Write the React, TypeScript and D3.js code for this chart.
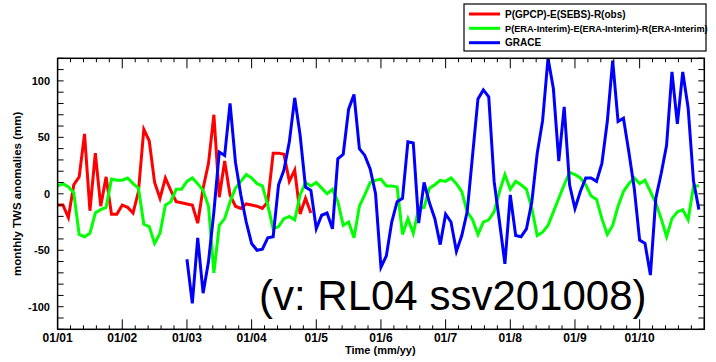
import React from "react";
import * as d3 from "d3";

// month index 0 = Jan 2001
const redStart = 0;
const redValues = [-10, -10, -21, 8, 15, 53, -15, 36, -11, 15, -18, -18, -10, -12, -17, 2, 57, 47, 10, -4, 14, 3, -7, -8, -9, -10, -26, 5, 27, 70, -3, 29, -1, -11, -13, -9, -10, -11, -13, -7, 36, 36, 35, 11, 21, -18, -4, -17];

const greenStart = 0;
const greenValues = [7, 9, 6, 1, -36, -38, -35, -17, -14, -12, 13, 12, 12, 14, 9, 5, -27, -29, -44, -35, -10, -7, 4, 4, 11, 14, 9, 3, -11, -70, -28, -22, -7, 5, 11, 17, 14, 9, 7, -10, -31, -29, -22, -20, -23, -1, 10, 7, 10, 5, 0, 4, -7, -28, -25, -39, -11, -1, 10, 12, 13, 7, 7, 6, -36, -22, -35, -13, -12, 5, 8, 12, 11, 14, 9, 2, -16, -23, -36, -25, -23, -16, 2, 17, 4, 11, 8, 4, -13, -37, -34, -28, -16, -4, 8, 19, 17, 14, 8, -2, -5, -22, -36, -28, -11, 2, 9, 14, 9, 12, 2, -8, -22, -38, -22, -16, -14, -23, 7, 7];

const blueStart = 24;
const blueValues = [-58, -97, -39, -88, -60, -16, 37, 34, 80, 28, -1, -25, -44, -50, -49, -39, -38, 8, 21, 46, 85, 52, 6, 3, -31, -19, -17, -31, 31, 35, 75, 88, 40, 34, 22, 0, -65, -55, -25, -7, -4, 46, 45, -26, 10, -8, -22, -45, -18, -25, -51, -37, -16, 34, 84, 92, 86, 11, -25, -62, -1, -37, -38, -31, -7, 36, 65, 120, 93, 29, 77, 8, -13, 2, 14, 14, 11, 27, 64, 118, 64, 67, 37, 5, -41, -44, -72, -4, 18, 43, 108, 62, 108, 76, 11, -14];

const seriesNames = ["P(GPCP)-E(SEBS)-R(obs)", "P(ERA-Interim)-E(ERA-Interim)-R(ERA-Interim)", "GRACE"];
const seriesColors = ["#ff0000", "#00ff00", "#0000ff"];
const legendFontSizes = [10, 9.2, 10];

const xTickLabels = ["01/01", "01/02", "01/03", "01/04", "01/5", "01/6", "01/7", "01/8", "01/9", "01/10"];
const yTickValues = [-100, -50, 0, 50, 100];

const W = 716, H = 362;
const L = 57.6, R = 704.3, T = 58.3, B = 329.3;
const FONT = "'Liberation Sans', Arial, Helvetica, sans-serif";

export default function App() {
  const x = d3.scaleLinear().domain([0, 120]).range([L, R]);
  const y = d3.scaleLinear().domain([-120, 120]).range([B, T]);

  const mk = (start: number, vals: number[]) => vals.map((v, i) => [start + i, v] as [number, number]);
  const series = [mk(redStart, redValues), mk(greenStart, greenValues), mk(blueStart, blueValues)];
  const line = d3.line<[number, number]>().x(d => x(d[0])).y(d => y(d[1]));

  const majorX = d3.range(0, 121, 12);
  const minorX = d3.range(0, 120.01, 2.4).filter(m => Math.abs(m / 12 - Math.round(m / 12)) > 1e-6);
  const yTicks = d3.range(-120, 121, 10);

  const legendRows = [14, 28.3, 42.7];

  return (
    <svg width={W} height={H} style={{ position: "absolute", left: 0, top: 0, background: "#fff" }} fontFamily={FONT}>
      <defs>
        <clipPath id="plotclip">
          <rect x={L} y={T} width={R - L} height={B - T} />
        </clipPath>
      </defs>
      <rect x={0} y={0} width={W} height={H} fill="#fff" />
      <g clipPath="url(#plotclip)">
        {series.map((s, i) => (
          <path key={i} d={line(s) || ""} fill="none" stroke={seriesColors[i]} strokeWidth={3} strokeLinejoin="miter" strokeMiterlimit={4} />
        ))}
      </g>
      <text x={259} y={310} fontSize={42} fill="#000">(v: RL04 ssv201008)</text>
      <rect x={L} y={T} width={R - L} height={B - T} fill="none" stroke="#000" strokeWidth={1.5} />
      {majorX.map(m => (
        <g key={"mx" + m}>
          <line x1={x(m)} x2={x(m)} y1={B} y2={B - 10} stroke="#000" strokeWidth={1} />
          <line x1={x(m)} x2={x(m)} y1={T} y2={T + 10} stroke="#000" strokeWidth={1} />
        </g>
      ))}
      {minorX.map(m => (
        <g key={"nx" + m}>
          <line x1={x(m)} x2={x(m)} y1={B} y2={B - 4} stroke="#000" strokeWidth={1} />
          <line x1={x(m)} x2={x(m)} y1={T} y2={T + 4} stroke="#000" strokeWidth={1} />
        </g>
      ))}
      {xTickLabels.map((lab, i) => (
        <text key={lab} x={x(i * 12)} y={342} fontSize={12} fontWeight="bold" textAnchor="middle" fill="#000">{lab}</text>
      ))}
      {yTicks.map(v => (
        <g key={"y" + v}>
          <line x1={L} x2={L + 6} y1={y(v)} y2={y(v)} stroke="#000" strokeWidth={1} />
          <line x1={R} x2={R - 6} y1={y(v)} y2={y(v)} stroke="#000" strokeWidth={1} />
        </g>
      ))}
      {yTickValues.map(v => (
        <text key={"yl" + v} x={50} y={y(v) + 4} fontSize={11} fontWeight="bold" textAnchor="end" fill="#000">{v}</text>
      ))}
      <text x={380.3} y={354} fontSize={11} fontWeight="bold" textAnchor="middle" fill="#000">Time (mm/yy)</text>
      <text transform={`translate(20.5,${y(0)}) rotate(-90)`} fontSize={11.5} fontWeight="bold" textAnchor="middle" fill="#000">monthly TWS anomalies (mm)</text>
      <rect x={464} y={4} width={242} height={47} fill="#fff" stroke="#000" strokeWidth={1.2} />
      {seriesNames.map((name, i) => (
        <g key={name}>
          <line x1={469} x2={500} y1={legendRows[i]} y2={legendRows[i]} stroke={seriesColors[i]} strokeWidth={3} />
          <text x={505} y={legendRows[i] + 3.6} fontSize={legendFontSizes[i]} fontWeight="bold" fill="#000">{name}</text>
        </g>
      ))}
    </svg>
  );
}
